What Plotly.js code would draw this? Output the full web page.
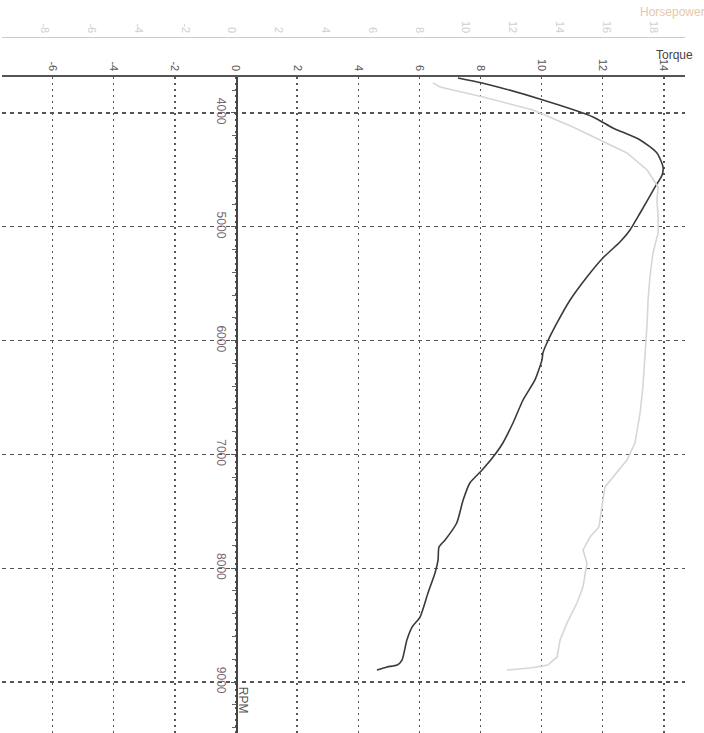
<!DOCTYPE html>
<html>
<head>
<meta charset="utf-8">
<script src="https://cdn.plot.ly/plotly-3.0.1.min.js"></script>
<style>html,body{margin:0;padding:0;background:#fff;}#chart{width:704px;height:733px;}</style>
</head>
<body>
<div id="chart"></div>
<script>
// Torque curve (RPM vs torque)
const torqueRpm = [3692,3736,3886,4035,4132,4237,4351,4475,4545,4650,4879,5028,5134,5274,5441,5643,5845,6021,6109,6170,6346,6522,6724,6900,7023,7137,7251,7401,7603,7752,7814,7928,8042,8218,8429,8517,8631,8807,8851,8868,8895];
const torqueVal = [7.26,8.05,10.04,11.68,12.33,13.22,13.77,13.97,13.94,13.71,13.22,12.89,12.56,12.0,11.48,10.93,10.5,10.17,10.04,10.01,9.78,9.39,9.06,8.73,8.41,8.05,7.65,7.43,7.22,6.84,6.64,6.61,6.51,6.28,6.02,5.76,5.59,5.43,5.27,4.94,4.61];
// Horsepower curve (RPM vs hp)
const hpRpm = [3736,3772,3859,3974,4123,4237,4351,4501,4650,4764,4914,5054,5230,5441,5643,5845,6109,6408,6636,6900,7049,7199,7286,7462,7638,7726,7840,7954,8165,8306,8481,8631,8780,8851,8877,8895];
const hpVal = [8.59,8.89,10.73,12.86,14.57,15.73,16.88,17.74,18.21,18.16,18.21,18.21,17.99,17.86,17.78,17.74,17.65,17.56,17.44,17.22,16.88,16.28,15.94,15.81,15.68,15.30,15.0,15.17,15.0,14.74,14.32,14.02,13.89,13.50,12.74,11.75];
// Tick labels
const torqueTicks = [-6,-4,-2,0,2,4,6,8,10,12,14];
const hpTicks = [-8,-6,-4,-2,0,2,4,6,8,10,12,14,16,18];
const rpmTicks = [4000,5000,6000,7000,8000,9000];

const traces = [
  {x: hpVal, y: hpRpm, xaxis: 'x2', yaxis: 'y', mode: 'lines', line: {color: '#d6d6d6', width: 1.6}, showlegend: false, hoverinfo: 'skip'},
  {x: torqueVal, y: torqueRpm, xaxis: 'x', yaxis: 'y', mode: 'lines', line: {color: '#3a3a3a', width: 1.6, shape: 'spline', smoothing: 0.6}, showlegend: false, hoverinfo: 'skip'}
];

const layout = {
  width: 704, height: 733,
  margin: {l: 2, r: 19, t: 30, b: 0},
  paper_bgcolor: '#ffffff', plot_bgcolor: '#ffffff',
  font: {family: 'Liberation Sans, Arial, sans-serif'},
  showlegend: false,
  xaxis: {
    range: [-7.655, 14.688], side: 'top', anchor: 'y',
    tickvals: torqueTicks, ticktext: torqueTicks.map(String),
    tickangle: 90, tickfont: {size: 11, color: '#555'},
    ticks: '', showline: true, linecolor: '#555', linewidth: 2,
    showgrid: true, gridcolor: '#555', gridwidth: 1.3, griddash: '2px,4px',
    zeroline: false
  },
  xaxis2: {
    range: [-9.829, 19.359], overlaying: 'x', side: 'top', anchor: 'free', position: 0.990,
    tickvals: hpTicks, ticktext: hpTicks.map(String),
    tickangle: 90, tickfont: {size: 11, color: '#cfcfcf'},
    ticks: '', showline: true, linecolor: '#cccccc', linewidth: 1.2,
    showgrid: false, zeroline: false
  },
  yaxis: {
    range: [9448, 3684], domain: [0, 0.93314], anchor: 'free', position: 0.3426, side: 'left',
    tickvals: rpmTicks, ticktext: rpmTicks.map(String),
    tickangle: 90, tickfont: {size: 12, color: '#7a6670'},
    ticks: 'outside', ticklen: 5, tickcolor: '#555',
    minor: {dtick: 200, ticks: 'outside', ticklen: 4, tickcolor: '#666', showgrid: false},
    showline: true, linecolor: '#444', linewidth: 1.6,
    showgrid: true, gridcolor: '#555', gridwidth: 1.3, griddash: '4px,4px',
    zeroline: false
  },
  annotations: [
    {text: 'Torque', xref: 'paper', yref: 'paper', x: 0.985, y: 0.964, showarrow: false, font: {size: 12, color: '#444'}, xanchor: 'center', yanchor: 'middle'},
    {text: 'Horsepower', xref: 'paper', yref: 'paper', x: 0.982, y: 1.0256, showarrow: false, font: {size: 12, color: '#e6c9a6'}, xanchor: 'center', yanchor: 'middle'},
    {text: 'RPM', xref: 'paper', yref: 'paper', x: 0.353, y: 0.047, showarrow: false, textangle: 90, font: {size: 12, color: '#555'}, xanchor: 'center', yanchor: 'middle'}
  ]
};

Plotly.newPlot('chart', traces, layout, {staticPlot: true, displayModeBar: false});
</script>
</body>
</html>
